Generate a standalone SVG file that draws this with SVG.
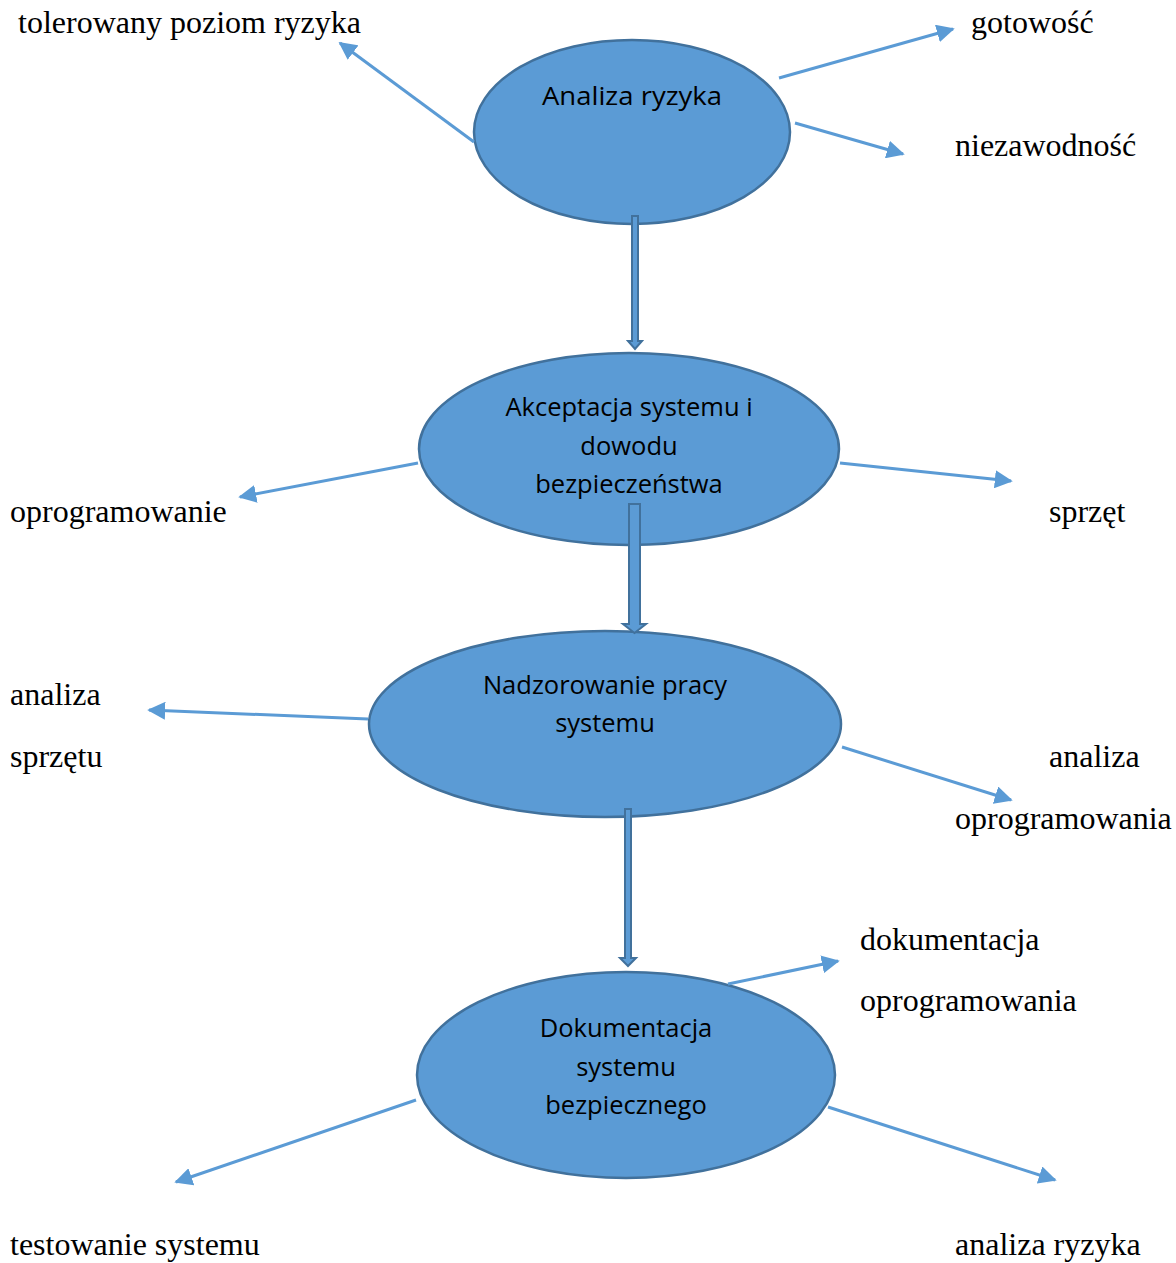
<svg xmlns="http://www.w3.org/2000/svg" width="1176" height="1263" viewBox="0 0 1176 1263">
<defs>
<style>
.node{fill:#5b9bd5;stroke:#41719c;stroke-width:2.5}
.nt{font-family:"Open Sans","Liberation Sans",Arial,sans-serif;font-size:25.5px;fill:#000;text-anchor:middle}
.lb{font-family:"Liberation Serif","Times New Roman",serif;font-size:32px;fill:#000}
.ln{stroke:#5b9bd5;stroke-width:3;fill:none;marker-end:url(#ah)}
.blk{fill:#5b9bd5;stroke:#41719c;stroke-width:2}
</style>
<marker id="ah" viewBox="0 0 10 10" refX="9" refY="5" markerWidth="6" markerHeight="6" orient="auto" markerUnits="strokeWidth">
<path d="M0,0 L10,5 L0,10 z" fill="#5b9bd5"/>
</marker>
</defs>
<rect width="1176" height="1263" fill="#fff"/>
<g id="n1">
<ellipse class="node" cx="632" cy="132" rx="158" ry="92"/>
<text class="nt" x="632" y="105" textLength="180" lengthAdjust="spacingAndGlyphs">Analiza ryzyka</text>
</g>
<g id="n2">
<ellipse class="node" cx="629" cy="449" rx="210" ry="96"/>
<text class="nt" x="629" y="416">Akceptacja systemu i</text>
<text class="nt" x="629" y="455">dowodu</text>
<text class="nt" x="629" y="493">bezpieczeństwa</text>
</g>
<g id="n3">
<ellipse class="node" cx="605" cy="724" rx="236" ry="93"/>
<text class="nt" x="605" y="694">Nadzorowanie pracy</text>
<text class="nt" x="605" y="732">systemu</text>
</g>
<g id="n4">
<ellipse class="node" cx="626" cy="1075" rx="209" ry="103"/>
<text class="nt" x="626" y="1037">Dokumentacja</text>
<text class="nt" x="626" y="1076">systemu</text>
<text class="nt" x="626" y="1114">bezpiecznego</text>
</g>
<g id="connectors">
<line class="ln" x1="474" y1="142" x2="340" y2="43"/>
<line class="ln" x1="779" y1="78" x2="953" y2="29"/>
<line class="ln" x1="795" y1="123" x2="903" y2="154"/>
<line class="ln" x1="418" y1="463" x2="240" y2="497"/>
<line class="ln" x1="840" y1="463" x2="1011" y2="481"/>
<line class="ln" x1="368" y1="719" x2="149" y2="710"/>
<line class="ln" x1="842" y1="747" x2="1011" y2="800"/>
<line class="ln" x1="728" y1="984" x2="838" y2="961"/>
<line class="ln" x1="416" y1="1100" x2="176" y2="1182"/>
<line class="ln" x1="828" y1="1107" x2="1055" y2="1180"/>
<path class="blk" d="M632,216 L638,216 L638,341 L642,341 L635,349 L628,341 L632,341 Z"/>
<path class="blk" d="M629,504 L640,504 L640,624 L646,624 L634.5,633 L623,624 L629,624 Z"/>
<path class="blk" d="M625,809 L631,809 L631,958 L636,958 L628,966 L620,958 L625,958 Z"/>
</g>
<g id="labels">
<text class="lb" x="18" y="33">tolerowany poziom ryzyka</text>
<text class="lb" x="971" y="33">gotowość</text>
<text class="lb" x="955" y="156">niezawodność</text>
<text class="lb" x="10" y="522">oprogramowanie</text>
<text class="lb" x="1049" y="522">sprzęt</text>
<text class="lb" x="10" y="705">analiza</text>
<text class="lb" x="10" y="767">sprzętu</text>
<text class="lb" x="1049" y="767">analiza</text>
<text class="lb" x="955" y="829">oprogramowania</text>
<text class="lb" x="860" y="950">dokumentacja</text>
<text class="lb" x="860" y="1011">oprogramowania</text>
<text class="lb" x="10" y="1255">testowanie systemu</text>
<text class="lb" x="955" y="1255">analiza ryzyka</text>
</g>
</svg>
